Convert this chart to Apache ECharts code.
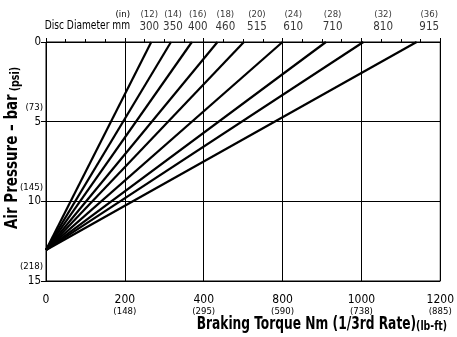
<!DOCTYPE html>
<html><head><meta charset="utf-8">
<script src="https://cdn.jsdelivr.net/npm/echarts@6/dist/echarts.min.js"></script>
<style>html,body{margin:0;padding:0;background:#fff}#c{width:457px;height:337px}</style>
</head><body><div id="c"></div>
<script>
// ---- data ----
var discMm = ['300','350','400','460','515','610','710','810','915'];
var discIn = ['(12)','(14)','(16)','(18)','(20)','(24)','(28)','(32)','(36)'];
var discLabelTorque = [262, 322, 385, 455, 535, 627, 727, 855, 972];
var lineTopTorque = [267, 317, 370, 435, 502, 600, 710, 805, 940];
var convergePressure = 13.05;
var xTickNm = ['0','200','400','800','1000','1200'];
var xTickLbft = ['','(148)','(295)','(590)','(738)','(885)'];
var yTickBar = ['0','5','10','15'];
var yTickPsi = ['','(73)','(145)','(218)'];

var FONT = "'DejaVu Sans Condensed','Liberation Sans',sans-serif";
var chart = echarts.init(document.getElementById('c'), null, {renderer:'canvas'});

var series = lineTopTorque.map(function(t, i){
  return {type:'line', name:discMm[i], data:[[0, convergePressure],[t, 0]],
    symbol:'none', lineStyle:{color:'#000', width:2.2}, silent:true, z:3};
});
series.push({
  type:'scatter', symbolSize:0, clip:false, silent:true,
  data: discLabelTorque.map(function(t){return [t,0];}),
  label:{show:true, position:'top', distance:8,
    formatter:function(p){var i=p.dataIndex;return '{a|'+discIn[i]+'}\n{b|'+discMm[i]+'}';},
    rich:{a:{fontFamily:FONT,fontSize:9.5,lineHeight:12,color:'#000',align:'center'},
          b:{fontFamily:FONT,fontSize:11.5,lineHeight:13,color:'#000',align:'center'}}}
});

chart.setOption({
  animation:false,
  textStyle:{fontFamily:FONT},
  grid:{left:46,right:11,top:42,bottom:56,show:true,borderColor:'#000',borderWidth:1},
  xAxis:{type:'value',min:0,max:1000,interval:200,
    axisLine:{lineStyle:{color:'#000',width:1}},
    axisTick:{show:true,inside:true,length:4,lineStyle:{color:'#000'}},
    minorTick:{show:true,splitNumber:4,length:3,lineStyle:{color:'#000'}},
    splitLine:{show:true,lineStyle:{color:'#000',width:1}},
    axisLabel:{margin:12,color:'#000',showMaxLabel:true,
      formatter:function(v){var i=Math.round(v/200);return xTickLbft[i]?'{v|'+xTickNm[i]+'}\n{p|'+xTickLbft[i]+'}':'{v|'+xTickNm[i]+'}';},
      rich:{v:{fontFamily:FONT,fontSize:12,lineHeight:13,color:'#000'},
            p:{fontFamily:FONT,fontSize:9.5,lineHeight:12,color:'#000'}}}
  },
  yAxis:{type:'value',inverse:true,min:0,max:15,interval:5,
    axisLine:{show:true,lineStyle:{color:'#000',width:1}},
    axisTick:{show:true,length:5,lineStyle:{color:'#000'}},
    splitLine:{show:true,lineStyle:{color:'#000',width:1}},
    axisLabel:{margin:3,color:'#000',
      formatter:function(v){var i=Math.round(v/5);return '{p|'+(yTickPsi[i]||' ')+'}\n{v|'+yTickBar[i]+'}\n{e| }';},
      rich:{v:{fontFamily:FONT,fontSize:11.5,lineHeight:14,color:'#000',align:'right',padding:[0,2,0,0]},
            p:{fontFamily:FONT,fontSize:9.5,lineHeight:14,color:'#000',align:'right'},
            e:{fontSize:10,lineHeight:14}}}
  },
  graphic:[
    {type:'text',x:130,y:26,scaleX:0.88,style:{text:'Disc Diameter mm',font:'11.5px '+FONT,fill:'#000',align:'right',verticalAlign:'middle'}},
    {type:'text',x:130,y:15,style:{text:'(in)',font:'9.5px '+FONT,fill:'#000',align:'right',verticalAlign:'middle'}},
    {type:'text',x:13,y:148,rotation:Math.PI/2,scaleX:0.88,style:{text:'{a|Air Pressure – bar} {b|(psi)}',align:'center',verticalAlign:'middle',
      rich:{a:{fontFamily:FONT,fontSize:17,fontWeight:'bold',fill:'#000',verticalAlign:'bottom'},b:{fontFamily:FONT,fontSize:12,fontWeight:'bold',fill:'#000',verticalAlign:'bottom'}}}},
    {type:'text',x:447,y:325,scaleX:0.8,style:{text:'{a|Braking Torque Nm (1/3rd Rate)}{b|(lb-ft)}',align:'right',verticalAlign:'middle',
      rich:{a:{fontFamily:FONT,fontSize:17,fontWeight:'bold',fill:'#000',verticalAlign:'bottom'},b:{fontFamily:FONT,fontSize:13,fontWeight:'bold',fill:'#000',verticalAlign:'bottom'}}}}
  ],
  series:series
});
</script></body></html>
